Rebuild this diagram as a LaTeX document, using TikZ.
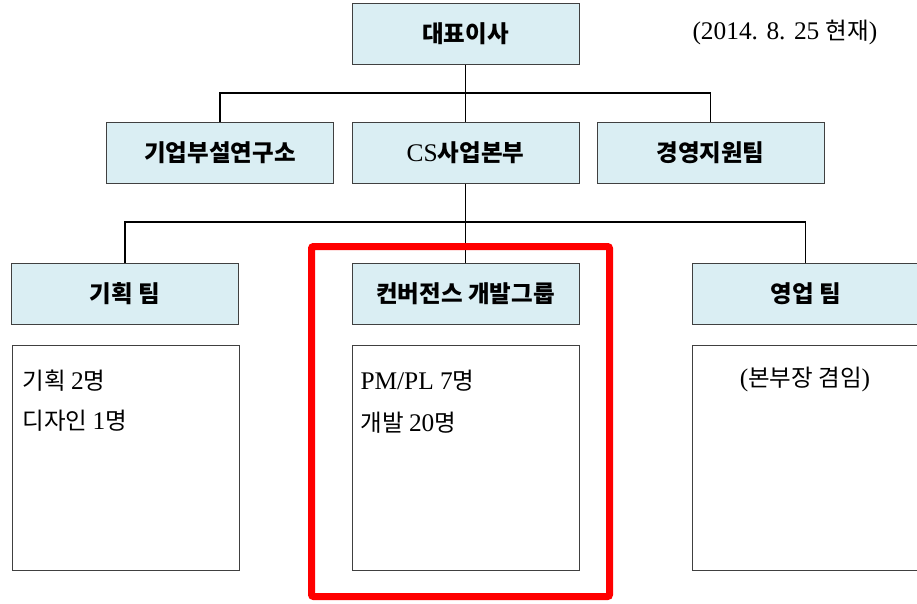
\documentclass[tikz,border=0pt]{standalone}
\usepackage{fontspec}
\setmainfont{Liberation Serif}[Scale=1.08]
\newfontfamily\kr{Noto Sans CJK KR}
\usetikzlibrary{positioning}
\definecolor{hdrblue}{HTML}{DAEEF3}
\definecolor{boxgray}{HTML}{404040}
\tikzset{every node/.style={line width=1pt}}
\newcommand{\lat}[1]{{\rmfamily\mdseries #1}}

\begin{document}
\begin{tikzpicture}[x=1pt,y=-1pt]
  \tikzstyle{hnode} = [draw=boxgray, fill=hdrblue, minimum width=227pt, minimum height=61pt, inner sep=0pt, font=\fontsize{23.5}{27}\selectfont\kr\bfseries]
  \tikzstyle{bnode} = [draw=boxgray, minimum width=227pt, minimum height=225pt, inner sep=0pt]
  \tikzstyle{tnode} = [inner sep=0pt, anchor=west, font=\fontsize{23.5}{27}\selectfont\kr]
  \tikzstyle{link} = [line width=1.4pt]
  \useasboundingbox (0,0) rectangle (917,603);

  % top level
  \node[hnode] (ceo) at (465.5,34) {대표이사};
  \node[tnode] (date) at (692,32) {\lat{(2014. 8. 25 }현재\lat{)}};

  % second level
  \node[hnode] (lab) at (220,152.5) {기업부설연구소};
  \node[hnode] (cs) at (465.5,152.5) {\lat{CS}사업본부};
  \node[hnode] (mgmt) at (710.5,152.5) {경영지원팀};

  % teams
  \node[hnode] (plan) at (125,293.5) {기획 팀};
  \node[hnode] (dev) at (465.5,293.5) {컨버전스 개발그룹};
  \node[hnode] (sales) at (805.5,293.5) {영업 팀};

  \node[bnode] (planbody) at (126,457.5) {};
  \node[bnode] (devbody) at (465.5,458) {};
  \node[bnode] (salesbody) at (805.5,457.5) {};

  \node[tnode] (plan1) at (22,381) {기획 \lat{2}명};
  \node[tnode] (plan2) at (22,421) {디자인 \lat{1}명};
  \node[tnode] (dev1) at (360,381) {\lat{PM/PL 7}명};
  \node[tnode] (dev2) at (360,423) {개발 \lat{20}명};
  \node[tnode, anchor=center] (sales1) at (805,379) {\lat{(}본부장 겸임\lat{)}};

  % connectors
  \coordinate (busA) at (465.5,93);
  \coordinate (busB) at (465.5,222);
  \draw[link] (ceo) -- (cs);
  \draw[link] (lab.north) |- (busA) -| (mgmt.north);
  \draw[link] (cs) -- (dev);
  \draw[link] (plan.north) |- (busB) -| (sales.north);

  % highlight
  \draw[red, line width=7pt, rounded corners=2pt] (311.5,246.5) rectangle (609.5,596.5);
\end{tikzpicture}
\end{document}
